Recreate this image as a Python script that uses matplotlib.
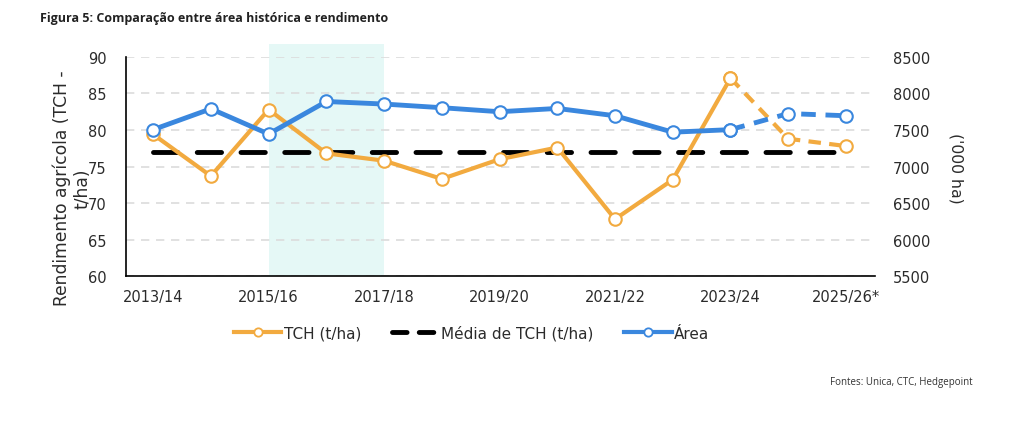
import numpy as np
import matplotlib.pyplot as plt
from matplotlib.lines import Line2D

# safras (13 anos)
safras = ["2013/14", "2014/15", "2015/16", "2016/17", "2017/18", "2018/19", "2019/20",
          "2020/21", "2021/22", "2022/23", "2023/24", "2024/25", "2025/26*"]
tch = [79.4, 73.7, 82.8, 76.8, 75.8, 73.3, 76.0, 77.6, 67.8, 73.2, 87.1, 78.8, 77.8]
media_tch = [77.0] * 13
area = [7505, 7790, 7445, 7890, 7855, 7805, 7750, 7795, 7695, 7470, 7505, 7725, 7695]
n_real = 11  # ultimos dois sao estimativas (tracejado)
shade_from, shade_to = 2, 4

orange = "#F2AA3F"
blue = "#3A87DE"
txt = "#2b2b2b"

fig = plt.figure(figsize=(10.22, 4.31), dpi=100)
ax = fig.add_axes([0.1233, 0.357, 0.7327, 0.5086])
ax2 = ax.twinx()

x = np.arange(len(safras))

ax.axvspan(shade_from, shade_to, ymin=0, ymax=1.06, color="#E5F8F6", zorder=0, clip_on=False, lw=0)

for v in range(60, 95, 5):
    ax.axhline(v, color="#dcdcdc", lw=1.2, ls=(0, (5, 4)), zorder=1)

ax.plot(x, media_tch, color="black", lw=3.5, ls=(0, (5, 4)), dash_capstyle="round", zorder=2)

mk = dict(marker="o", markersize=9, markerfacecolor="white", markeredgewidth=1.5)
ax.plot(x[:n_real], tch[:n_real], color=orange, lw=3, markeredgecolor=orange, zorder=3, **mk)
ax.plot(x[n_real - 1:], tch[n_real - 1:], color=orange, lw=3, ls=(0, (3, 2)),
        markeredgecolor=orange, zorder=3, **mk)

ax2.plot(x[:n_real], area[:n_real], color=blue, lw=3.5, markeredgecolor=blue, zorder=4, **mk)
ax2.plot(x[n_real - 1:], area[n_real - 1:], color=blue, lw=3.5, ls=(0, (3, 2)),
         markeredgecolor=blue, zorder=4, **mk)

ax.set_xlim(-0.47, 12.5)
ax.set_ylim(60, 90)
ax2.set_ylim(5500, 8500)
ax.set_yticks(range(60, 95, 5))
ax2.set_yticks(range(5500, 9000, 500))
ax.set_xticks(x[::2])
ax.set_xticklabels(safras[::2])

for a in (ax, ax2):
    for s in a.spines.values():
        s.set_visible(False)
ax.spines["left"].set_visible(True)
ax.spines["bottom"].set_visible(True)
ax.spines["left"].set_linewidth(1.2)
ax.spines["bottom"].set_linewidth(1.2)

ax.tick_params(axis="y", length=0, pad=14, labelsize=10.5, labelcolor=txt)
ax.tick_params(axis="x", length=0, pad=9, labelsize=10.5, labelcolor=txt)
ax2.tick_params(axis="y", length=0, pad=13, labelsize=10.5, labelcolor=txt)

fig.text(0.0607, 0.564, "Rendimento agrícola (TCH -", rotation=90, ha="center", va="center",
         fontsize=12.3, color=txt)
fig.text(0.081, 0.562, "t/ha)", rotation=90, ha="center", va="center", fontsize=12.3, color=txt)
fig.text(0.935, 0.61, "('000 ha)", rotation=-90, ha="center", va="center", fontsize=11.3, color=txt)

handles = [
    Line2D([], [], color=orange, lw=3, marker="o", markersize=6, markerfacecolor="white",
           markeredgecolor=orange, markeredgewidth=1.3),
    Line2D([], [], color="black", lw=3.5, ls=(0, (3, 2.5)), dash_capstyle="round"),
    Line2D([], [], color=blue, lw=3, marker="o", markersize=6, markerfacecolor="white",
           markeredgecolor=blue, markeredgewidth=1.3),
]
fig.legend(handles, ["TCH (t/ha)", "Média de TCH (t/ha)", "Área"], loc="center",
           bbox_to_anchor=(0.4615, 0.225), ncol=3, frameon=False, fontsize=11,
           handlelength=3.1, columnspacing=2.0, handletextpad=0.15, labelcolor=txt)

fig.text(0.039, 0.957, "Figura 5: Comparação entre área histórica e rendimento",
         fontsize=9, fontweight="bold", family="Open Sans", color="#222222", va="center")
fig.text(0.952, 0.113, "Fontes: Unica, CTC, Hedgepoint", fontsize=7, family="Open Sans",
         color="#333333", ha="right", va="center")

fig.savefig("out.png", dpi=100)
